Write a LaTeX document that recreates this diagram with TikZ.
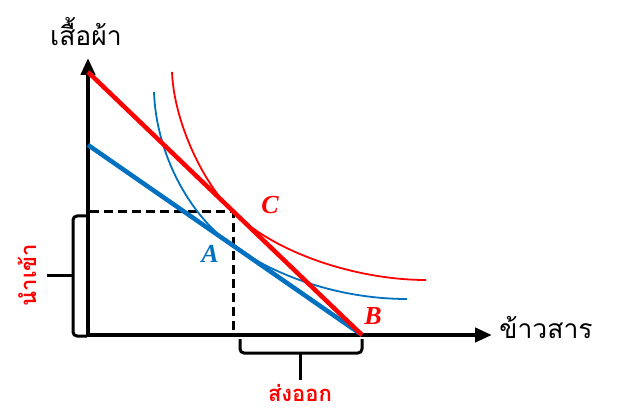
\documentclass[tikz,border=0pt]{standalone}
\usepackage{fontspec}
\newfontfamily\thaifont[Script=Thai]{Loma}
\newfontfamily\chufont{Liberation Serif}
\usetikzlibrary{arrows.meta}
\definecolor{xanh}{RGB}{0,112,192}
\tikzset{
  truc/.style={line width=4.5pt,{Triangle[length=17pt,width=14pt]}-{Triangle[length=17pt,width=14pt]}},
  duong/.style={line width=4.5pt},
  congcap/.style={line width=1.8pt},
  nhan/.style={font=\chufont\fontsize{26}{26}\selectfont\bfseries\itshape,inner sep=0pt},
  tentruc/.style={font=\thaifont\fontsize{26.5}{26.5}\selectfont,inner sep=0pt},
  ngoac/.style={line width=3pt,rounded corners=4pt},
  tenngoac/.style={font=\thaifont\bfseries\fontsize{22}{22}\selectfont,text=red,inner sep=0pt}
}
\begin{document}
\begin{tikzpicture}[x=1pt,y=-1pt,line join=round]
	% Khung
	\useasboundingbox (0,0) rectangle (631,419);
	\coordinate (O) at (88,335);
	\coordinate (X) at (492,335);
	\coordinate (Y) at (88,58);
	\coordinate (R) at (88,72);
	\coordinate (S) at (88,145);
	\coordinate (B) at (362,335);
	\coordinate (C) at (233,212);
	\coordinate (A) at (233,246);
	\draw [truc] (Y)--(O)--(X);
	\draw [line width=3pt,dash pattern=on 9pt off 5pt] (90,212)--(C)--(C|-O);
	\draw [congcap,red] (172,72) .. controls (174,122) and (203,183.2) .. (C) .. controls (278,255.2) and (360,280) .. (426,280);
	\draw [congcap,xanh] (154,92) .. controls (156,152) and (188,214.8) .. (A) .. controls (283,280.7) and (347,299) .. (407,299);
	\draw [duong,xanh] (S)--(B);
	\draw [duong,red] (R)--(B);
	\node [nhan,text=red] (nhanC) at (270,205) {C};
	\node [nhan,text=xanh] (nhanA) at (210,254) {A};
	\node [nhan,text=red] (nhanB) at (373,316) {B};
	\node [tentruc] (tenY) at (86,32) {เสื้อผ้า};
	\node [tentruc] (tenX) at (546,328) {ข้าวสาร};
	\draw [ngoac] (87,216)--(73,216)--(73,336)--(87,336);
	\draw [ngoac] (73,276)--(47,276);
	\draw [ngoac] (240,339)--(240,353)--(362,353)--(362,339);
	\draw [ngoac] (300,353)--(300,380);
	\node [tenngoac,rotate=90] (nhapkhau) at (27,275) {นำเข้า};
	\node [tenngoac] (xuatkhau) at (300,393) {ส่งออก};
\end{tikzpicture}
\end{document}
